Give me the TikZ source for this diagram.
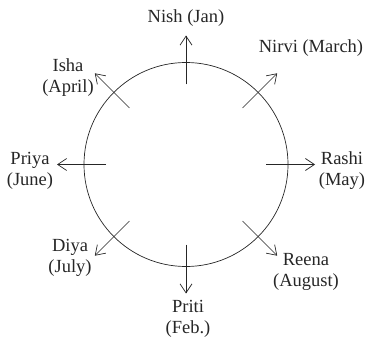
\documentclass[tikz,border=0pt]{standalone}
\usepackage{fontspec}
\setmainfont{Liberation Serif}
\usetikzlibrary{arrows.meta,calc}
\begin{document}
\begin{tikzpicture}[x=1pt,y=1pt,
  lbl/.style={font=\fontsize{18.5}{21}\selectfont, align=center, inner sep=0pt, text=black!85},
  ray/.style={draw=black!85, line width=0.7pt, -{Straight Barb[length=9pt,width=12pt,line width=0.7pt]}},
  ring/.style={draw=black!85, line width=0.7pt}]
\useasboundingbox (0,0) rectangle (367,338);
\coordinate (c) at (186,173.5);
\draw[ring] (c) circle (102);
\foreach \n/\a in {n/90,ne/45,e/0,se/-45,s/-90,sw/-135,w/180,nw/135}{
  \coordinate (\n1) at ($(c)+(\a:80)$);
  \coordinate (\n2) at ($(c)+(\a:129)$);
}
\draw[ray] (n1) -- (n2);
\draw[ray] (ne1) -- (ne2);
\draw[ray] (e1) -- (e2);
\draw[ray] (se1) -- (se2);
\draw[ray] (s1) -- (s2);
\draw[ray] (sw1) -- (sw2);
\draw[ray] (w1) -- (w2);
\draw[ray] (nw1) -- (nw2);
\node[lbl] (nish) at (186,320) {Nish (Jan)};
\node[lbl] (nirvi) at (311,290) {Nirvi (March)};
\node[lbl] (isha) at (68,260.5) {Isha\\(April)};
\node[lbl] (priya) at (30,167) {Priya\\(June)};
\node[lbl] (rashi) at (342,167) {Rashi\\(May)};
\node[lbl] (diya) at (70,80.5) {Diya\\(July)};
\node[lbl] (reena) at (306,66) {Reena\\(August)};
\node[lbl] (priti) at (188,19) {Priti\\(Feb.)};
\end{tikzpicture}
\end{document}
